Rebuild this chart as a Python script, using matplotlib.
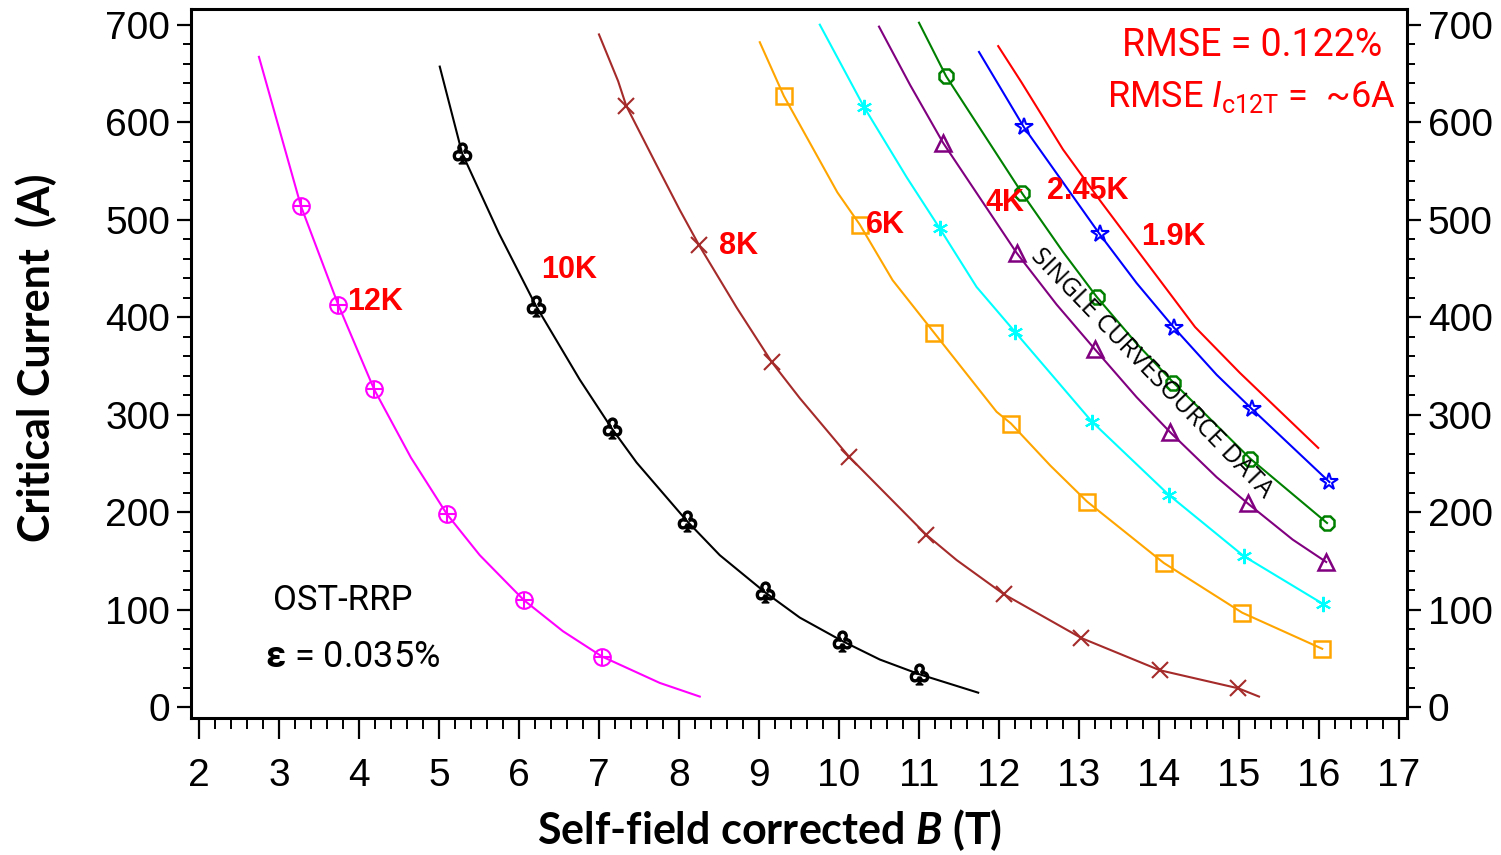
import matplotlib
matplotlib.use("Agg")
import matplotlib.pyplot as plt
from matplotlib.ticker import MultipleLocator

plt.rcParams['mathtext.fontset'] = 'custom'
plt.rcParams['mathtext.rm'] = 'Roboto'
plt.rcParams['mathtext.it'] = 'Roboto:italic'
plt.rcParams['mathtext.bf'] = 'Roboto:bold'
plt.rcParams['mathtext.bfit'] = 'Lato:italic:bold'

# measured points (markers)
b_12k = [3.275, 3.74, 4.19, 5.10, 6.06, 7.04]
ic_12k = [514, 413, 326, 198, 110, 52]
b_10k = [5.29, 6.21, 7.16, 8.10, 9.075, 10.04, 11.0]
ic_10k = [568, 412, 286, 191, 118, 68, 34]
b_8k = [7.34, 8.25, 9.16, 10.125, 11.09, 12.06, 13.03, 14.01, 14.99]
ic_8k = [617, 474, 354, 257, 177, 116, 71, 38, 19.5]
b_6k = [9.31, 10.26, 11.19, 12.15, 13.1, 14.06, 15.04, 16.04]
ic_6k = [627, 495, 384, 291, 211, 148, 97, 60]
b_5k = [10.31, 11.26, 12.2, 13.16, 14.12, 15.06, 16.05]
ic_5k = [616, 491, 385, 293, 218, 155, 106]
b_4k = [11.3, 12.22, 13.2, 14.14, 15.11, 16.09]
ic_4k = [579, 466, 367, 282, 209, 149]
b_245k = [11.34, 12.29, 13.22, 14.18, 15.14, 16.1]
ic_245k = [647, 527, 421, 333, 255, 189]
b_19k = [12.31, 13.26, 14.19, 15.16, 16.13]
ic_19k = [595, 485, 389, 306, 231]

# fitted curves
fit_b_12k = [2.75, 3.275, 3.74, 4.19, 4.65, 5.10, 5.51, 6.06, 6.55, 7.04, 7.76, 8.26]
fit_ic_12k = [667, 514, 413, 326, 256, 198, 156, 110, 78, 52, 25, 11]
fit_b_10k = [5.01, 5.29, 5.75, 6.21, 6.76, 7.16, 7.47, 8.10, 8.51, 9.075, 9.51, 10.04, 10.51, 11.0, 11.74]
fit_ic_10k = [657, 568, 486, 412, 336, 286, 251, 191, 156, 118, 92, 68, 49, 34, 15]
fit_b_8k = [7.0, 7.24, 7.34, 7.72, 8.01, 8.25, 8.72, 9.16, 9.51, 10.125, 11.09, 11.47, 12.06, 13.03, 14.01, 14.99, 15.25]
fit_ic_8k = [690, 642, 617, 556, 510, 474, 410, 354, 317, 257, 177, 151, 116, 71, 38, 19.5, 11]
fit_b_6k = [9.01, 9.31, 9.98, 10.26, 10.67, 11.19, 11.97, 12.15, 12.64, 13.1, 14.06, 15.04, 16.04]
fit_ic_6k = [682, 627, 528, 495, 438, 384, 303, 291, 248, 211, 148, 97, 60]
fit_b_5k = [9.76, 10.31, 10.85, 11.26, 11.72, 12.2, 13.16, 14.12, 15.06, 16.05]
fit_ic_5k = [700, 616, 543, 491, 431, 385, 293, 218, 155, 106]
fit_b_4k = [10.5, 10.89, 11.3, 12.22, 12.72, 13.2, 13.72, 14.14, 14.72, 15.11, 15.67, 16.09]
fit_ic_4k = [698, 638, 579, 466, 413, 367, 318, 282, 236, 209, 172, 149]
fit_b_245k = [11.0, 11.34, 12.29, 12.8, 13.22, 13.72, 14.18, 15.14, 16.1]
fit_ic_245k = [702, 647, 527, 467, 421, 373, 333, 255, 189]
fit_b_19k = [11.75, 12.31, 13.26, 13.72, 14.19, 14.72, 15.16, 16.13]
fit_ic_19k = [672, 595, 485, 435, 389, 341, 306, 231]
fit_b_red = [11.99, 12.28, 12.8, 13.26, 13.79, 14.45, 15.01, 15.99]
fit_ic_red = [678, 641, 572, 520, 462, 390, 343, 266]

fig = plt.figure(figsize=(15.01, 8.55), dpi=100)
ax = fig.add_axes([0.1272, 0.1602, 0.8102, 0.8292])

lw = 1.5
ms = 11
# 12K
ax.plot(fit_b_12k, fit_ic_12k, color='#FF00FF', lw=lw)
ax.plot(b_12k, ic_12k, 'o', mfc='none', mec='#FF00FF', ms=12, mew=1.5)
ax.plot(b_12k, ic_12k, '+', color='#FF00FF', ms=12, mew=1.5)
# 10K
ax.plot(fit_b_10k, fit_ic_10k, color='black', lw=lw)
ax.plot(b_10k, ic_10k, ls='none', marker='$\u2667$', color='black', ms=15)
# 8K
ax.plot(fit_b_8k, fit_ic_8k, color='#A52A2A', lw=lw)
ax.plot(b_8k, ic_8k, 'x', color='#A52A2A', ms=ms, mew=1.5)
# 6K
ax.plot(fit_b_6k, fit_ic_6k, color='#FFA500', lw=lw)
ax.plot(b_6k, ic_6k, 's', mfc='none', mec='#FFA500', ms=ms, mew=1.8)
# 5K
ax.plot(fit_b_5k, fit_ic_5k, color='#00FFFF', lw=lw)
ax.plot(b_5k, ic_5k, ls='none', marker=(6, 2, 0), color='#00FFFF', ms=ms, mew=1.5)
# 4K
ax.plot(fit_b_4k, fit_ic_4k, color='#800080', lw=lw)
ax.plot(b_4k, ic_4k, '^', mfc='none', mec='#800080', ms=ms, mew=1.8)
# 2.45K
ax.plot(fit_b_245k, fit_ic_245k, color='#008000', lw=lw)
ax.plot(b_245k, ic_245k, '8', mfc='none', mec='#008000', ms=ms, mew=1.8)
# 1.9K
ax.plot(fit_b_19k, fit_ic_19k, color='#0000FF', lw=lw)
ax.plot(b_19k, ic_19k, '*', mfc='none', mec='#0000FF', ms=13, mew=1.5)
# red curve
ax.plot(fit_b_red, fit_ic_red, color='#FF0000', lw=lw)

ax.set_xlim(1.9, 17.1)
ax.set_ylim(-11, 716)
ax.xaxis.set_major_locator(MultipleLocator(1))
ax.xaxis.set_minor_locator(MultipleLocator(0.2))
ax.yaxis.set_major_locator(MultipleLocator(100))
ax.yaxis.set_minor_locator(MultipleLocator(20))
ax.yaxis.set_ticks_position('both')
ax.tick_params(which='major', length=10, width=1.6, labelsize=28, labelright=True)
ax.tick_params(which='minor', length=6, width=1.4)
ax.tick_params(axis='x', which='major', length=15, pad=14)
ax.tick_params(axis='x', which='minor', length=8)
ax.tick_params(axis='y', pad=5)
for t in ax.xaxis.get_major_ticks() + ax.yaxis.get_major_ticks():
    t.label1.set_fontfamily('Liberation Sans')
    t.label2.set_fontfamily('Liberation Sans')
for s in ax.spines.values():
    s.set_linewidth(2.2)

# temperature labels
lab_font = dict(color='red', fontsize=22, fontweight='bold', family='Liberation Sans', va='center', ha='left')
ax.text(3.85, 416, '12K', **lab_font)
ax.text(6.275, 448, '10K', **lab_font)
ax.text(8.5, 473, '8K', **lab_font)
ax.text(10.34, 495, '6K', **lab_font)
ax.text(11.83, 517, '4K', **lab_font)
ax.text(12.6, 529, '2.45K', **lab_font)
ax.text(13.78, 482, '1.9K', **lab_font)

ax.text(13.91, 342, 'SINGLE CURVESOURCE DATA', rotation=-46, rotation_mode='anchor',
        ha='center', va='center', fontsize=18, family='Open Sans', color='black')

ax.text(15.16, 679, 'RMSE = 0.122%', color='red', fontsize=27, family='Roboto', ha='center', va='center')
ax.text(15.15, 626, r'RMSE $\mathit{I}_{\mathrm{c12T}}$ =  ~6A', color='red', fontsize=26, family='Roboto',
        ha='center', va='center')
ax.text(3.8, 110, 'OST-RRP', color='black', fontsize=25, family='Roboto', ha='center', va='center')
ax.text(3.92, 52, '$\\mathbf{\u03b5}$ = 0.035%', color='black', fontsize=26, family='Roboto', ha='center', va='center')

fig.text(36 / 1501, 1 - 358 / 855, 'Critical Current  (A)', rotation=90, ha='center', va='center',
         fontsize=31, fontweight='bold', family='Lato')
fig.text(770 / 1501, 1 - 830 / 855, r'Self-field corrected $\mathbfit{B}$ (T)', ha='center', va='center',
         fontsize=31, fontweight='bold', family='Lato')

fig.savefig('out.png', dpi=100)
